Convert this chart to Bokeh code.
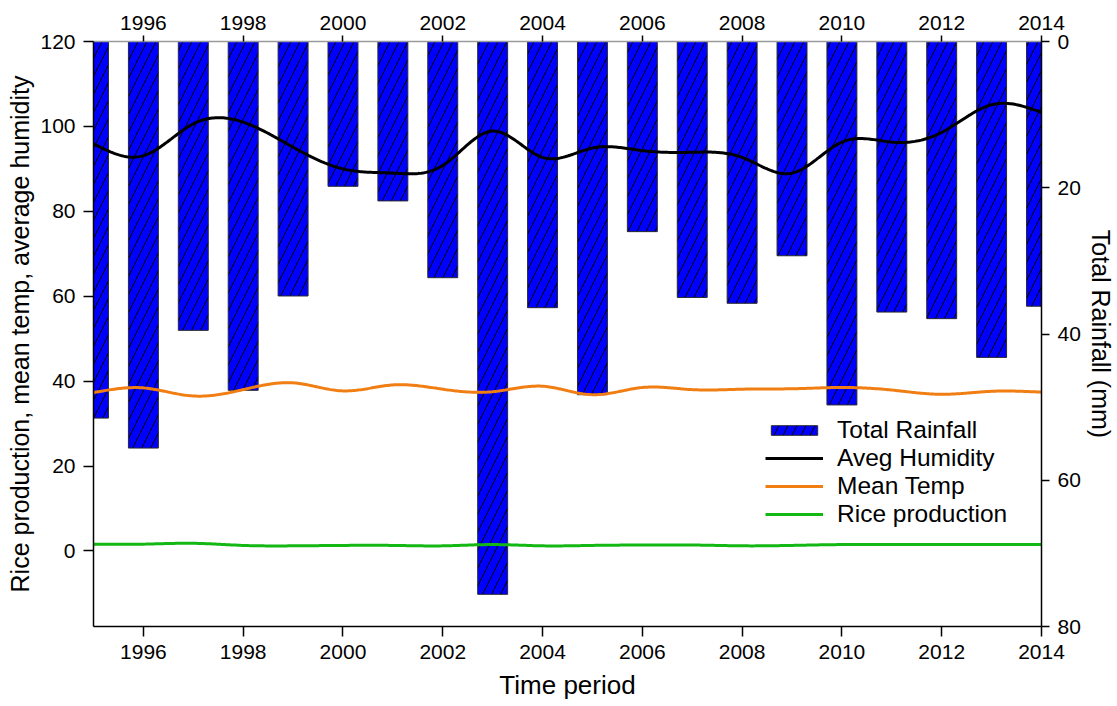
import numpy as np
from bokeh.plotting import figure
from bokeh.models import Range1d, LinearAxis, FixedTicker, Legend, LegendItem
from bokeh.embed import file_html
from bokeh.resources import INLINE

years = list(range(1995, 2015))
rainfall = [51.5, 55.6, 39.5, 47.7, 34.8, 19.8, 21.8, 32.3, 75.6, 36.4,
            48.3, 26.0, 35.0, 35.8, 29.3, 49.7, 37.0, 37.9, 43.2, 36.2]
humidity = [95.9, 93.1, 100.6, 101.0, 95.1, 90.0, 89.0, 90.8, 98.9, 92.7,
            94.9, 94.3, 93.9, 92.7, 89.0, 96.3, 96.3, 98.6, 105.1, 103.3]
mean_temp = [37.3, 38.4, 36.5, 38.0, 39.6, 37.7, 39.1, 38.1, 37.5, 38.8,
             36.8, 38.5, 38.0, 38.1, 38.2, 38.5, 37.9, 36.9, 37.6, 37.4]
rice = [1.6, 1.6, 1.8, 1.3, 1.2, 1.3, 1.3, 1.2, 1.5, 1.2,
        1.3, 1.4, 1.4, 1.2, 1.3, 1.5, 1.5, 1.5, 1.5, 1.5]

x_ticks = [1996, 1998, 2000, 2002, 2004, 2006, 2008, 2010, 2012, 2014]
left_ticks = [0, 20, 40, 60, 80, 100, 120]
right_ticks = [0, 20, 40, 60, 80]

FONT = "Liberation Sans"


def smooth(xs, ys, n=600):
    """Natural cubic spline drawn through the yearly values (for rendering)."""
    x = np.asarray(xs, float)
    y = np.asarray(ys, float)
    h = np.diff(x)
    m = len(x)
    A = np.zeros((m, m))
    b = np.zeros(m)
    A[0, 0] = 1.0
    A[-1, -1] = 1.0
    for i in range(1, m - 1):
        A[i, i - 1] = h[i - 1]
        A[i, i] = 2 * (h[i - 1] + h[i])
        A[i, i + 1] = h[i]
        b[i] = 3 * ((y[i + 1] - y[i]) / h[i] - (y[i] - y[i - 1]) / h[i - 1])
    c = np.linalg.solve(A, b)
    bb = (y[1:] - y[:-1]) / h - h * (2 * c[:-1] + c[1:]) / 3
    d = (c[1:] - c[:-1]) / (3 * h)
    xf = np.linspace(x[0], x[-1], n)
    idx = np.clip(np.searchsorted(x, xf, side="right") - 1, 0, m - 2)
    dx = xf - x[idx]
    yf = y[idx] + bb[idx] * dx + c[idx] * dx ** 2 + d[idx] * dx ** 3
    return xf, yf


p = figure(width=1117, height=706, output_backend="svg", toolbar_location=None,
           x_range=Range1d(1995, 2014), y_range=Range1d(-17.8, 120),
           min_border_left=93, min_border_right=72, min_border_top=41,
           min_border_bottom=80, x_axis_location=None, y_axis_location=None)
p.outline_line_color = None
p.grid.visible = False
p.background_fill_color = "white"
p.border_fill_color = "white"

p.extra_y_ranges = {"rain": Range1d(80, 0)}

bars = p.vbar(x=years, width=0.6, top=0, bottom=rainfall, y_range_name="rain",
              fill_color="#0000FF", line_color="#2a2a2a", line_width=1,
              hatch_pattern="/", hatch_color="black", hatch_scale=18,
              hatch_weight=1)

hx, hy = smooth(years, humidity)
tx, ty = smooth(years, mean_temp)
rx, ry = smooth(years, rice)
l_hum = p.line(hx, hy, line_color="black", line_width=3)
l_temp = p.line(tx, ty, line_color="#F07E12", line_width=3)
l_rice = p.line(rx, ry, line_color="#14B814", line_width=3)


def style_axis(ax, tick_out, standoff):
    ax.major_label_text_font = FONT
    ax.major_label_text_font_size = "21px"
    ax.major_label_text_color = "black"
    ax.axis_label_text_font = FONT
    ax.axis_label_text_font_size = "25px"
    ax.axis_label_text_font_style = "normal"
    ax.axis_label_text_color = "black"
    ax.minor_tick_line_color = None
    ax.major_tick_in = 0
    ax.major_tick_out = tick_out
    ax.major_tick_line_color = "black"
    ax.major_tick_line_width = 1.5
    ax.axis_line_color = "black"
    ax.axis_line_width = 1.5
    ax.major_label_standoff = standoff


left = LinearAxis(ticker=FixedTicker(ticks=left_ticks),
                  axis_label="Rice production, mean temp, average humidity")
style_axis(left, 10, 8)
left.axis_label_standoff = 3
p.add_layout(left, "left")

bottom = LinearAxis(ticker=FixedTicker(ticks=x_ticks), axis_label="Time period")
style_axis(bottom, 10, 8)
bottom.axis_label_text_font_size = "26px"
bottom.axis_label_standoff = 8
p.add_layout(bottom, "below")

top = LinearAxis(ticker=FixedTicker(ticks=x_ticks))
style_axis(top, 6, 6)
top.axis_line_color = "#9a9a9a"
p.add_layout(top, "above")

right = LinearAxis(ticker=FixedTicker(ticks=right_ticks), y_range_name="rain",
                   axis_label="Total Rainfall (mm)")
style_axis(right, 8, 8)
right.axis_label_standoff = 3
p.add_layout(right, "right")

legend = Legend(items=[
    LegendItem(label="Total Rainfall", renderers=[bars]),
    LegendItem(label="Aveg Humidity", renderers=[l_hum]),
    LegendItem(label="Mean Temp", renderers=[l_temp]),
    LegendItem(label="Rice production", renderers=[l_rice]),
], location=(672, 98))
legend.background_fill_alpha = 0
legend.border_line_color = None
legend.label_text_font = FONT
legend.label_text_font_size = "24.5px"
legend.label_text_color = "black"
legend.glyph_width = 58
legend.glyph_height = 12
legend.label_standoff = 14
legend.label_height = 24
legend.spacing = -1
legend.padding = 0
legend.margin = 0
p.add_layout(legend, "center")

open("out.html", "w").write(file_html(p, INLINE))
